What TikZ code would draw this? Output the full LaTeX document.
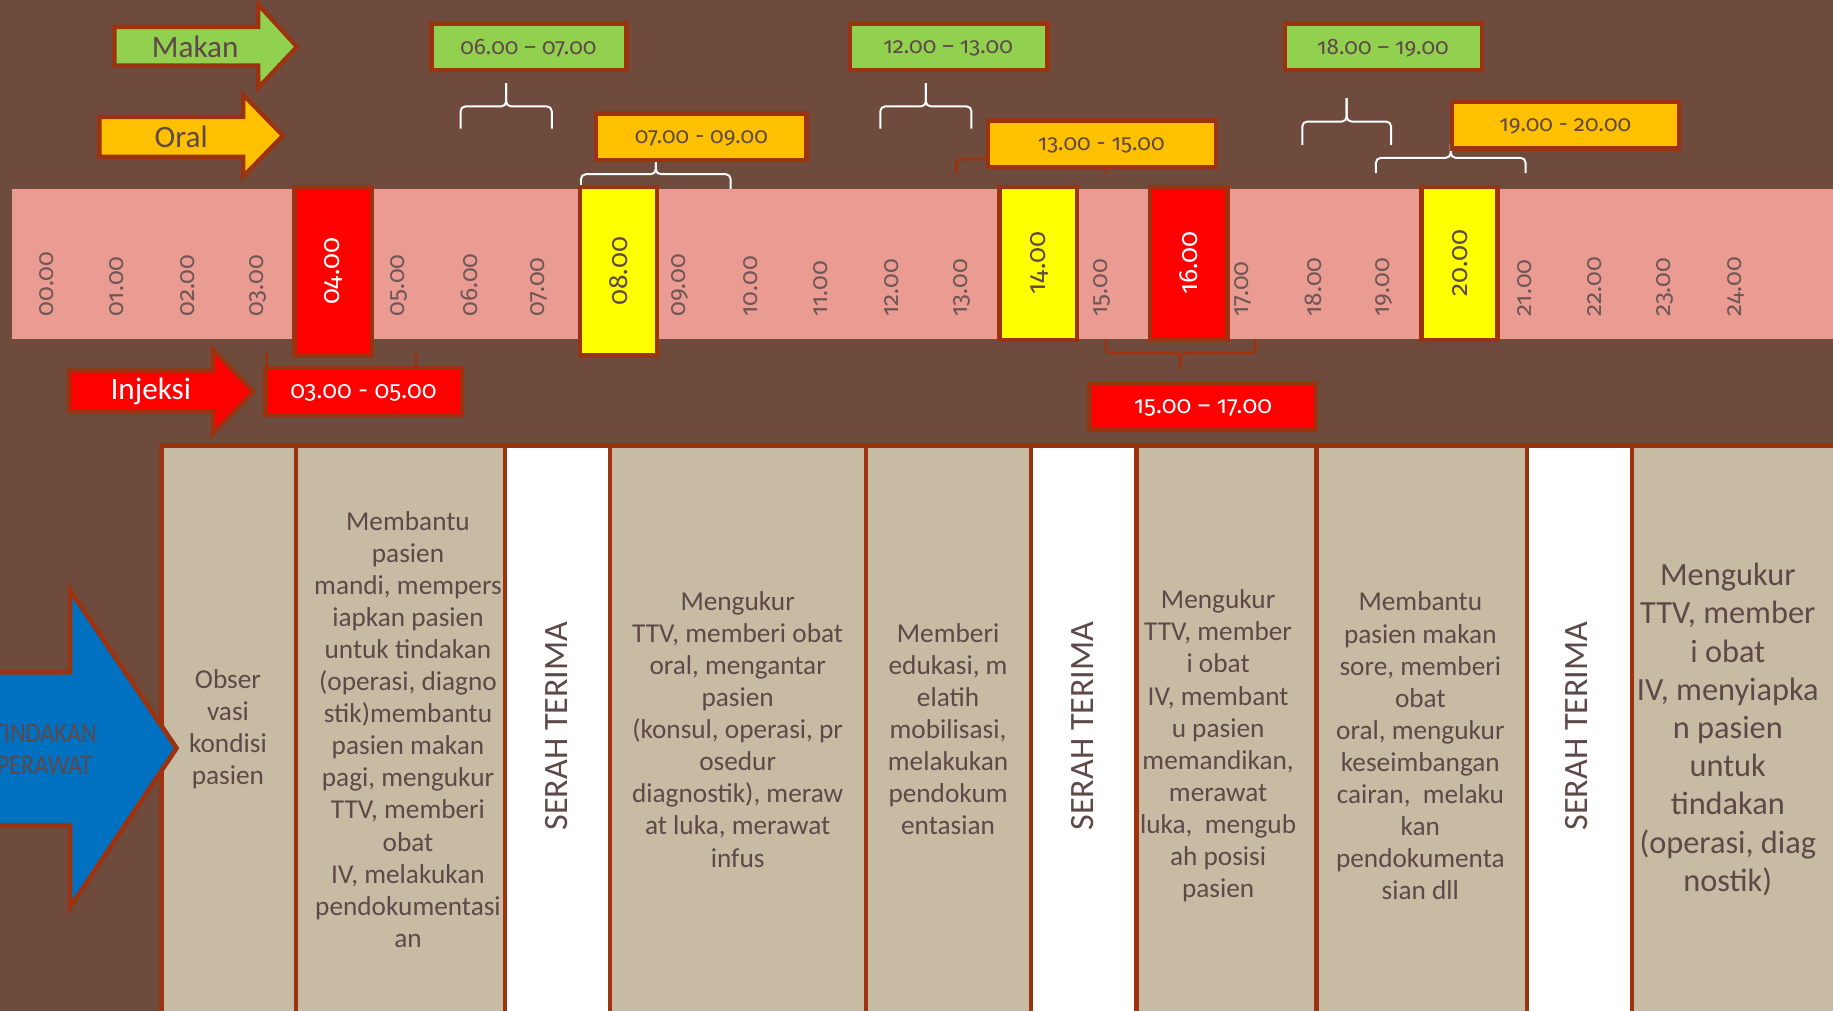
\documentclass[tikz,border=0pt]{standalone}
\usepackage{fontspec}
\setmainfont{Carlito}
\newfontfamily\numfont[Numbers=OldStyle]{Fira Sans}
\newfontfamily\narrowfont[FakeStretch=0.86]{Carlito}
\usetikzlibrary{calc}

\definecolor{bgbrown}{HTML}{6F4B3E}
\definecolor{bandpink}{HTML}{EA9C92}
\definecolor{beige}{HTML}{C8BBA4}
\definecolor{rust}{HTML}{9B3311}
\definecolor{lgreen}{HTML}{92D050}
\definecolor{amber}{HTML}{FFC000}
\definecolor{lyellow}{HTML}{FFFF00}
\definecolor{bred}{HTML}{FF0000}
\definecolor{mblue}{HTML}{0070C0}
\definecolor{ink}{HTML}{5E4848}
\definecolor{tickink}{HTML}{6E5656}

% curly bracket: style, left end x, right end x, middle x, end y, bar y, tip y
\newcommand\curlyb[7]{%
  \draw[#1,rounded corners=2.5pt] (#2,#5) -- (#2,#6) -- (#4,#6) -- (#4,#7);
  \draw[#1,rounded corners=2.5pt] (#3,#5) -- (#3,#6) -- (#4,#6) -- (#4,#7);}

\begin{document}
\begin{tikzpicture}[x=0.6pt,y=-0.6pt,
  boxframe/.style={draw=rust,line width=2.2pt},
  arrowlabel/.style={font=\fontsize{16}{18}\selectfont,text=ink,inner sep=0pt},
  timerange/.style={font=\numfont\fontsize{11.5}{13}\selectfont,text=ink,inner sep=0pt},
  redrange/.style={font=\numfont\fontsize{12.5}{14}\selectfont,text=white,inner sep=0pt},
  hourlabel/.style={font=\numfont\fontsize{12.5}{14}\selectfont,text=tickink,rotate=90,anchor=west,inner sep=0pt},
  hourhi/.style={font=\numfont\fontsize{13.5}{15}\selectfont,rotate=90,inner sep=0pt},
  wbrace/.style={draw=white,line width=1pt},
  rbrace/.style={draw=rust,line width=1.3pt},
  coltext/.style={font=\fontsize{14}{16.45}\selectfont,align=center,text=ink,inner sep=0pt},
  bigcoltext/.style={font=\fontsize{16.6}{19.6}\selectfont,align=center,text=ink,inner sep=0pt},
  handover/.style={font=\fontsize{17.5}{19}\selectfont,text=ink,rotate=90,inner sep=0pt},
  colbox/.style={draw=rust,line width=2.3pt}]

\useasboundingbox (0,0) rectangle (1568,864);
\clip (0,0) rectangle (1568,864);
\fill[bgbrown] (-5,-5) rectangle (1575,870);

% ---- category arrows
\draw[boxframe,fill=lgreen] (98,23) -- (221,23) -- (221,4) -- (254,40) -- (221,75) -- (221,56) -- (98,56) -- cycle;
\node[arrowlabel] (makan) at (167,40) {Makan};
\draw[boxframe,fill=amber] (85,100) -- (208,100) -- (208,81) -- (242,116) -- (208,151) -- (208,134) -- (85,134) -- cycle;
\node[arrowlabel] (oral) at (155,117) {Oral};

% ---- brackets under the time ranges
\curlyb{wbrace}{394}{472}{433}{110}{91}{71}
\curlyb{wbrace}{753}{831}{792}{110}{91}{71}
\curlyb{wbrace}{1114}{1190}{1152}{124}{104}{84}
\curlyb{wbrace}{497}{625}{561}{164}{149}{139}
\curlyb{wbrace}{1177}{1305}{1241}{148}{135}{123}
\curlyb{rbrace}{818}{946}{882}{148}{136}{125}

% ---- meal times
\draw[boxframe,fill=lgreen] (369,20) rectangle (536,60);
\node[timerange] (m1) at (452,41) {06.00 – 07.00};
\draw[boxframe,fill=lgreen] (727,20) rectangle (896,60);
\node[timerange] (m2) at (811,41) {12.00 – 13.00};
\draw[boxframe,fill=lgreen] (1099,20) rectangle (1268,60);
\node[timerange] (m3) at (1183,41) {18.00 – 19.00};

% ---- oral medication times
\draw[boxframe,fill=amber] (510,97) rectangle (690,137);
\node[timerange] (o1) at (600,118) {07.00 - 09.00};
\draw[boxframe,fill=amber] (845,103) rectangle (1040,143);
\node[timerange] (o2) at (942,124) {13.00 - 15.00};
\draw[boxframe,fill=amber] (1242,87) rectangle (1436,127);
\node[timerange] (o3) at (1339,108) {19.00 - 20.00};

% ---- 24 hour band
\fill[bandpink] (10,162) rectangle (1575,290);
\foreach \h/\t in {0/00.00,1/01.00,2/02.00,3/03.00,5/05.00,6/06.00,7/07.00,
                   9/09.00,10/10.00,11/11.00,12/12.00,13/13.00,15/15.00,
                   17/17.00,18/18.00,19/19.00,21/21.00,22/22.00,23/23.00,24/24.00}
  \node[hourlabel] (h\h) at ({40+60.2*\h},271) {\t};

\draw[boxframe,fill=bred] (252,160) rectangle (318,304);
\node[hourhi,text=white] (h4) at (285,232) {04.00};
\draw[boxframe,fill=lyellow] (496,160) rectangle (562,304);
\node[hourhi,text=ink] (h8) at (529,232) {08.00};
\draw[boxframe,fill=lyellow] (855,160) rectangle (921,291);
\node[hourhi,text=ink] (h14) at (889,225) {14.00};
\draw[boxframe,fill=bred] (984,160) rectangle (1050,291);
\node[hourhi,text=white] (h16) at (1017,225) {16.00};
\draw[boxframe,fill=lyellow] (1216,160) rectangle (1281,291);
\node[hourhi,text=ink] (h20) at (1249,225) {20.00};

% ---- injection times
\draw[boxframe,fill=bred] (59,317) -- (182,317) -- (182,299) -- (217,335) -- (182,371) -- (182,352) -- (59,352) -- cycle;
\node[arrowlabel,text=white] (injeksi) at (129,335) {Injeksi};
\curlyb{rbrace}{228}{356}{292}{302}{322}{330}
\draw[boxframe,fill=bred] (227,315) rectangle (395,355);
\node[redrange] (i1) at (311,336) {03.00 - 05.00};
\curlyb{rbrace}{946}{1074}{1010}{290}{302}{316}
\draw[boxframe,fill=bred] (932,328) rectangle (1126,368);
\node[redrange] (i2) at (1029,349) {15.00 – 17.00};

% ---- nursing activity columns
\foreach \a/\b/\c in {138/253/beige,253/432/beige,432/522/white,522/741/beige,
                      741/882/beige,882/972/white,972/1126/beige,1126/1306/beige,
                      1306/1396/white,1396/1590/beige}
  \draw[colbox,fill=\c] (\a,381) rectangle (\b,890);

\node[coltext] (c1) at (195,624) {Obser\\vasi\\kondisi\\pasien};
\node[coltext] (c2) at (349,624) {Membantu\\pasien\\mandi, mempers\\iapkan pasien\\untuk tindakan\\(operasi, diagno\\stik)membantu\\pasien makan\\pagi, mengukur\\TTV, memberi\\obat\\IV, melakukan\\pendokumentasi\\an};
\node[handover] (s1) at (476,621) {SERAH TERIMA};
\node[coltext] (c4) at (631,624) {Mengukur\\TTV, memberi obat\\oral, mengantar\\pasien\\(konsul, operasi, pr\\osedur\\diagnostik), meraw\\at luka, merawat\\infus};
\node[coltext] (c5) at (811,624) {Memberi\\edukasi, m\\elatih\\mobilisasi,\\melakukan\\pendokum\\entasian};
\node[handover] (s2) at (926,621) {SERAH TERIMA};
\node[coltext] (c7) at (1042,638) {Mengukur\\TTV, member\\i obat\\IV, membant\\u pasien\\memandikan,\\merawat\\luka,\ \ mengub\\ah posisi\\pasien};
\node[coltext] (c8) at (1215,638) {Membantu\\pasien makan\\sore, memberi\\obat\\oral, mengukur\\keseimbangan\\cairan,\ \ melaku\\kan\\pendokumenta\\sian dll};
\node[handover] (s3) at (1349,621) {SERAH TERIMA};
\node[bigcoltext] (c10) at (1478,624) {Mengukur\\TTV, member\\i obat\\IV, menyiapka\\n pasien\\untuk\\tindakan\\(operasi, diag\\nostik)};

% ---- big arrow into the columns
\draw[boxframe,line width=2.4pt,fill=mblue] (-20,575) -- (60,575) -- (60,505) -- (151,640) -- (60,776) -- (60,706) -- (-20,706) -- cycle;
\node[font=\narrowfont\fontsize{14.5}{16.2}\selectfont,text=ink,align=center,inner sep=0pt] (tp) at (38,641) {TINDAKAN\\PERAWAT};

\end{tikzpicture}
\end{document}
